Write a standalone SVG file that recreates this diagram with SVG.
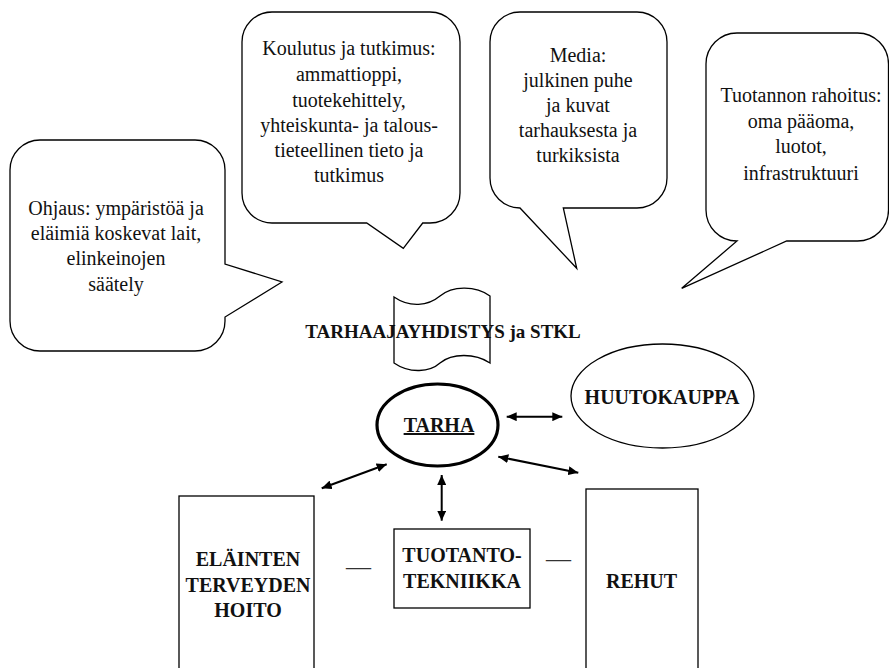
<svg xmlns="http://www.w3.org/2000/svg" width="889" height="668" viewBox="0 0 889 668">
<style>
  .bg { fill: #ffffff; }
  .shape { fill: none; stroke: #000; stroke-width: 1.3; stroke-linejoin: miter; }
  .bubble { fill: #ffffff; stroke: #000; stroke-width: 1.3; stroke-linejoin: miter; }
  .box { fill: #ffffff; stroke: #000; stroke-width: 1.3; }
  .thick { fill: #ffffff; stroke: #000; stroke-width: 3.2; }
  .txt { font-family: "Liberation Serif", "Times New Roman", serif; font-size: 20px; fill: #111; text-anchor: middle; }
  .lbl { font-family: "Liberation Serif", "Times New Roman", serif; font-size: 20px; font-weight: bold; fill: #111; text-anchor: middle; }
  .dash { font-family: "Liberation Serif", "Times New Roman", serif; font-size: 25px; fill: #333; }
  .conn { stroke: #000; stroke-width: 2; fill: none; marker-start: url(#ah); marker-end: url(#ah); }
</style>
<defs>
  <marker id="ah" markerUnits="userSpaceOnUse" markerWidth="10" markerHeight="9" refX="10" refY="4.5" orient="auto-start-reverse">
    <path d="M0,0 L10,4.5 L0,9 Z" fill="#000"/>
  </marker>
</defs>
<rect class="bg" x="0" y="0" width="889" height="668"/>

<g id="ohjaus">
  <path class="bubble" d="M40,140 H195 A30,30 0 0 1 225,170 V264 L282,282 L225,317 V321 A30,30 0 0 1 195,351 H40 A30,30 0 0 1 10,321 V170 A30,30 0 0 1 40,140 Z"/>
  <text class="txt" x="116" y="215">Ohjaus: ympäristöä ja</text>
  <text class="txt" x="116" y="240">eläimiä koskevat lait,</text>
  <text class="txt" x="116" y="265">elinkeinojen</text>
  <text class="txt" x="116" y="291">säätely</text>
</g>

<g id="koulutus">
  <path class="bubble" d="M272,12 H430 A30,30 0 0 1 460,42 V193 A30,30 0 0 1 430,223 H422.7 L403.3,248.3 L366.7,223 H272 A30,30 0 0 1 242,193 V42 A30,30 0 0 1 272,12 Z"/>
  <text class="txt" x="349" y="55">Koulutus ja tutkimus:</text>
  <text class="txt" x="349" y="81">ammattioppi,</text>
  <text class="txt" x="349" y="107">tuotekehittely,</text>
  <text class="txt" x="349" y="132">yhteiskunta- ja talous-</text>
  <text class="txt" x="349" y="157">tieteellinen tieto ja</text>
  <text class="txt" x="349" y="182">tutkimus</text>
</g>

<g id="media">
  <path class="bubble" d="M520,12 H637 A30,30 0 0 1 667,42 V178 A30,30 0 0 1 637,208 H563.3 L576.7,268.3 L520,208 A30,30 0 0 1 490,178 V42 A30,30 0 0 1 520,12 Z"/>
  <text class="txt" x="578" y="62">Media:</text>
  <text class="txt" x="578" y="87">julkinen puhe</text>
  <text class="txt" x="578" y="112">ja kuvat</text>
  <text class="txt" x="578" y="137">tarhauksesta ja</text>
  <text class="txt" x="578" y="162">turkiksista</text>
</g>

<g id="rahoitus">
  <path class="bubble" d="M737,33 H857.5 A31,31 0 0 1 888.5,64 V210 A31,31 0 0 1 857.5,241 H786.7 L681.7,288.3 L737,241 A31,31 0 0 1 706,210 V64 A31,31 0 0 1 737,33 Z"/>
  <text class="txt" x="801" y="102">Tuotannon rahoitus:</text>
  <text class="txt" x="801" y="128">oma pääoma,</text>
  <text class="txt" x="801" y="153">luotot,</text>
  <text class="txt" x="801" y="180">infrastruktuuri</text>
</g>

<g id="tarhaajayhdistys">
  <text class="lbl" x="443" y="338" style="font-size:19px">TARHAAJAYHDISTYS ja STKL</text>
  <path class="shape" d="M394,297 C410,308 428,306 440,296 C452,286 475,285 490,296 V363 C475,353 452,353 440,363 C430,372 410,374 394,363 Z"/>
</g>

<g id="tarha">
  <ellipse class="thick" cx="437.5" cy="425" rx="60.5" ry="41"/>
  <text class="lbl" x="439" y="432" text-decoration="underline">TARHA</text>
</g>

<g id="huutokauppa">
  <ellipse class="box" cx="662.5" cy="396" rx="91.5" ry="52"/>
  <text class="lbl" x="662" y="404">HUUTOKAUPPA</text>
</g>

<g id="elainten">
  <rect class="box" x="179" y="496" width="135" height="200"/>
  <text class="lbl" x="248" y="566">ELÄINTEN</text>
  <text class="lbl" x="248" y="592">TERVEYDEN</text>
  <text class="lbl" x="248" y="617">HOITO</text>
</g>

<g id="tuotantotekniikka">
  <rect class="box" x="394" y="529" width="136" height="79"/>
  <text class="lbl" x="462" y="562">TUOTANTO-</text>
  <text class="lbl" x="462" y="588">TEKNIIKKA</text>
</g>

<g id="rehut">
  <rect class="box" x="586" y="489" width="112" height="200"/>
  <text class="lbl" x="641.5" y="588">REHUT</text>
</g>

<g id="dashes">
  <text class="dash" x="346" y="575">—</text>
  <text class="dash" x="546" y="567">—</text>
</g>

<g id="connectors">
  <line class="conn" x1="506.7" y1="416.7" x2="562.3" y2="416.7"/>
  <line class="conn" x1="498.3" y1="456.7" x2="578.3" y2="472.7"/>
  <line class="conn" x1="386.7" y1="464.3" x2="321.7" y2="488.3"/>
  <line class="conn" x1="441.7" y1="475" x2="441.7" y2="520.7"/>
</g>
</svg>
